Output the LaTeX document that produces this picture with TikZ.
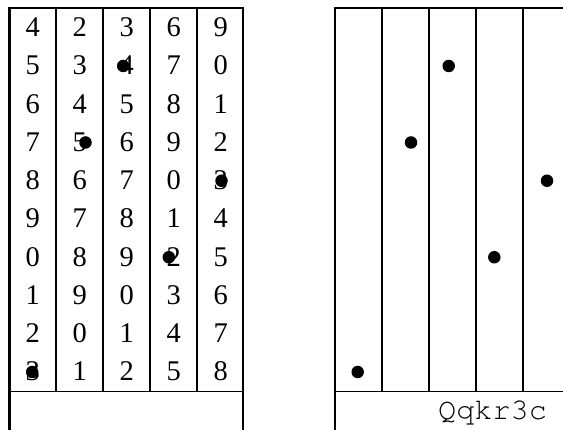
\documentclass[tikz,border=0pt]{standalone}
\usepackage{fontspec}
\setmainfont{Liberation Serif}
\newcommand\courierfont{\fontencoding{T1}\fontfamily{pcr}\selectfont}
\begin{document}
\begin{tikzpicture}[x=1pt,y=1pt,
  frameline/.style={line width=2.2pt,line cap=rect},
  gridline/.style={line width=1.6pt},
  digit/.style={anchor=base,inner sep=0pt,font=\fontsize{28.5}{28.5}\selectfont},
  dot/.style={circle,fill=black,inner sep=0pt,minimum size=12.5pt},
  codetext/.style={anchor=base west,inner sep=0pt,font=\courierfont\fontsize{30.2}{30.2}\selectfont}]
\useasboundingbox (0,0) rectangle (563,-430);
% left table
\draw[frameline] (9.5,-440) -- (9.5,-8) -- (243,-8) -- (243,-440);
\foreach \x in {56,103,150,197} \draw[gridline] (\x,-8) -- (\x,-391.7);
\draw[gridline] (9.5,-391.7) -- (243,-391.7);
% digits
\foreach \c/\s in {1/4,2/2,3/3,4/6,5/9}{
  \foreach \r in {1,...,10}{
    \pgfmathtruncatemacro{\v}{mod(\s+\r-1,10)}
    \pgfmathsetmacro{\xx}{32.75+(\c-1)*47}
    \pgfmathsetmacro{\yy}{-36.7-(\r-1)*38.25}
    \node[digit] (d-\r-\c) at (\xx,\yy) {\v};
  }
}
% right table
\draw[frameline] (335,-440) -- (335,-8) -- (570,-8);
\foreach \x in {381.7,428.7,475.7,522.7} \draw[gridline] (\x,-8) -- (\x,-391.7);
\draw[gridline] (335,-391.7) -- (570,-391.7);
% dots
\foreach \n/\r/\c/\o in {a/2/3/19.7,b/4/2/29,c/5/5/24,d/7/4/18.3,e/10/1/22.7}{
  \pgfmathsetmacro{\xl}{9.5+(\c-1)*47+\o}
  \pgfmathsetmacro{\xr}{335+(\c-1)*47+\o}
  \pgfmathsetmacro{\yy}{-27.75-(\r-1)*38.25}
  \node[dot] (l\n) at (\xl,\yy) {};
  \node[dot] (r\n) at (\xr,\yy) {};
}
\node[codetext] (code) at (438,-420) {Qqkr3c};
\end{tikzpicture}
\end{document}
